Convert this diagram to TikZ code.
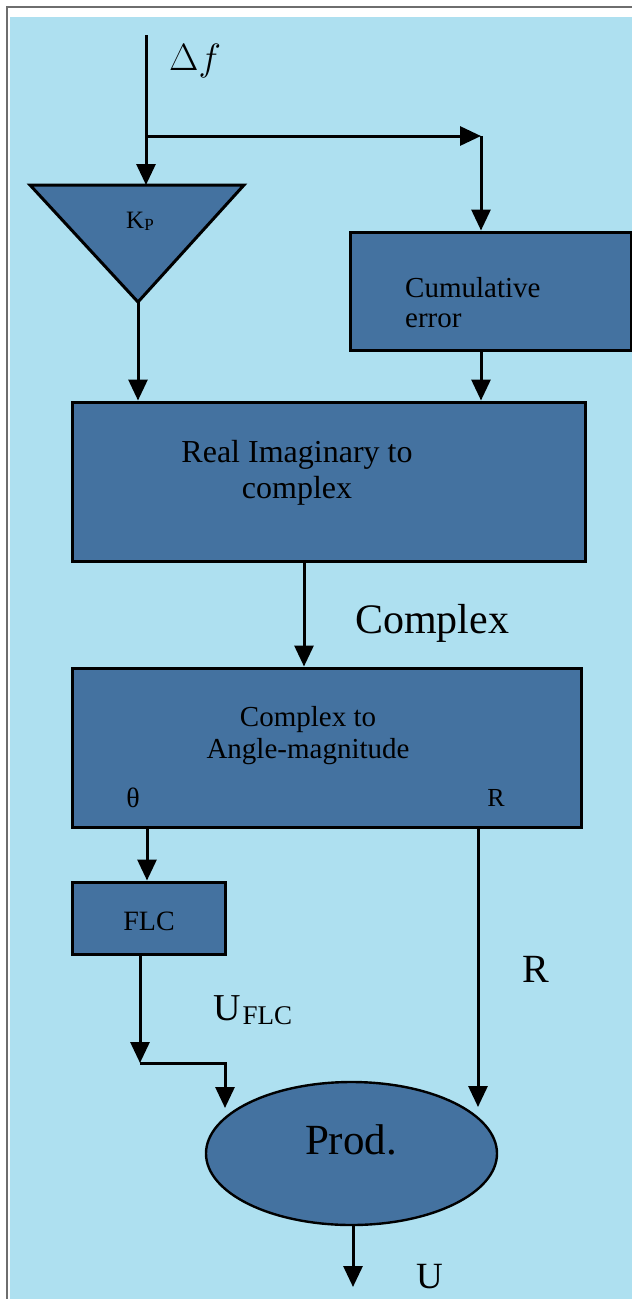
\RequirePackage{fix-cm}
\documentclass[tikz,border=0pt]{standalone}
\usepackage{fontspec}
\setmainfont{Liberation Serif}
\usetikzlibrary{arrows.meta,shapes.geometric,calc}
\definecolor{bgblue}{RGB}{174,224,240}
\definecolor{boxblue}{RGB}{68,114,160}
\definecolor{framegray}{RGB}{110,110,110}
\newcommand{\fsz}[1]{\fontsize{#1}{#1}\selectfont}
\begin{document}
\begin{tikzpicture}[x=1pt,y=-1pt,
  conn/.style={line width=3pt,draw=black},
  arr/.style={conn,-{Triangle[length=21pt,width=19pt]}},
  blk/.style={draw=black,line width=3pt,fill=boxblue,rectangle,inner sep=0pt},
  txt/.style={inner sep=0pt,anchor=base,text=black},
  tag/.style={inner sep=0pt,anchor=base west,text=black}]
\useasboundingbox (0,0) rectangle (632,1299);
\fill[white] (0,0) rectangle (632,1299);
\draw[framegray,line width=2pt] (7,7) rectangle (645,1310);
\fill[bgblue] (10,17) rectangle (632,1299);

% blocks
\draw[blk,line join=miter] (30,185) -- (244,185) -- (138,302) -- cycle;
\coordinate (apex) at (138,302);
\coordinate (kin) at (146,185);
\node[blk,minimum width=281pt,minimum height=118pt] (cum) at (490.5,291) {};
\node[blk,minimum width=513.5pt,minimum height=159pt] (real) at (329,481.5) {};
\node[blk,minimum width=509.5pt,minimum height=159pt] (ctam) at (327,747.5) {};
\node[blk,minimum width=153.5pt,minimum height=72pt] (flc) at (149,918) {};
\node[draw=black,line width=2.4pt,fill=boxblue,ellipse,inner sep=0pt,minimum width=291pt,minimum height=143pt] (prod) at (351.5,1153.5) {};

% texts in blocks
\node[txt] (kp) at (140,228) {\fsz{25}K{\fsz{17}\raisebox{-2pt}{P}}};
\node[tag] (cumt1) at (405,297) {\fsz{29}Cumulative};
\node[tag] (cumt2) at (405,327) {\fsz{29}error};
\node[txt] (realt1) at (297,462) {\fsz{32}Real Imaginary to};
\node[txt] (realt2) at (297,498) {\fsz{32}complex};
\node[txt] (ctamt1) at (308,726) {\fsz{29}Complex to};
\node[txt] (ctamt2) at (308,758) {\fsz{29}Angle-magnitude};
\node[txt] (theta) at (133,807) {\fsz{28}θ};
\node[txt] (rin) at (496,806) {\fsz{26}R};
\node[txt] (flct) at (149,930) {\fsz{28}FLC};
\node[txt] (prodt) at (351,1154) {\fsz{43}Prod.};

% outside labels
\node[tag] (df) at (169,70) {\fsz{38}$\Delta f$};
\node[tag] (cplx) at (355,633) {\fsz{42}Complex};
\node[tag] (rlab) at (522,982) {\fsz{40}R};
\node[tag] (uflc) at (213,1020) {\fsz{38}U\kern2pt{\fsz{27}\raisebox{-4pt}{FLC}}};
\node[tag] (ulab) at (416,1288) {\fsz{37}U};

% connectors
\coordinate (start) at (146,35);
\coordinate (br1) at (146,136);
\coordinate (br2) at (481,136);
\draw[arr] (start) -- (kin);
\draw[arr] (br1) -- (br2);
\draw[arr] (br2) -- (br2 |- cum.north);
\draw[arr] (apex) -- (apex |- real.north);
\draw[arr] (br2 |- cum.south) -- (br2 |- real.north);
\coordinate (rc) at (304,0);
\draw[arr] (rc |- real.south) -- (rc |- ctam.north);
\coordinate (tc) at (147,0);
\draw[arr] (tc |- ctam.south) -- (tc |- flc.north);
\coordinate (fc) at (140,1063);
\coordinate (fj) at (225,1063);
\coordinate (fe) at (225,1108);
\draw[arr] (fc |- flc.south) -- (fc);
\draw[arr] (fc) -- (fj) -- (fe);
\coordinate (re) at (478,1107);
\draw[arr] (re |- ctam.south) -- (re);
\coordinate (uo) at (353,1287);
\draw[arr] (prod.south -| uo) -- (uo);
\end{tikzpicture}
\end{document}
